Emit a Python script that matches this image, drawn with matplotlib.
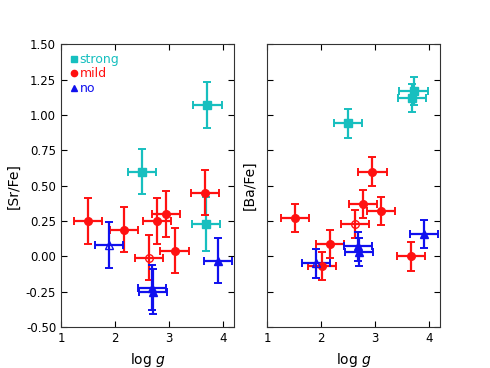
import matplotlib
matplotlib.use("Agg")
import matplotlib.pyplot as plt
from matplotlib.ticker import FormatStrFormatter

# log g, [Sr/Fe] (left panel)
sr_strong_x = [3.71, 2.50, 3.68]
sr_strong_y = [1.07, 0.60, 0.23]
sr_strong_ey = [0.16, 0.16, 0.19]

sr_mild_x = [1.50, 2.16, 2.77, 2.94, 3.10, 3.67]
sr_mild_y = [0.25, 0.19, 0.25, 0.30, 0.04, 0.45]
sr_mild_open_x = [2.62]
sr_mild_open_y = [-0.01]

sr_no_x = [2.68, 2.70, 3.90]
sr_no_y = [-0.22, -0.25, -0.03]
sr_no_open_x = [1.89]
sr_no_open_y = [0.08]

# log g, [Ba/Fe] (right panel)
ba_strong_x = [2.50, 3.71, 3.68]
ba_strong_y = [0.94, 1.17, 1.12]

ba_mild_x = [1.52, 2.77, 2.95, 3.11, 2.17, 2.01, 3.66]
ba_mild_y = [0.27, 0.37, 0.60, 0.32, 0.09, -0.07, 0.00]
ba_mild_open_x = [2.63]
ba_mild_open_y = [0.23]

ba_no_x = [2.69, 2.70, 3.90]
ba_no_y = [0.07, 0.03, 0.16]
ba_no_open_x = [1.90]
ba_no_open_y = [-0.05]

XERR = 0.26
SR_YERR = 0.16
BA_YERR = 0.10

C_STRONG = "#17bfbf"
C_MILD = "#ff1111"
C_NO = "#1010ee"

fig = plt.figure(figsize=(4.9, 3.68), dpi=100)
ax1 = fig.add_axes([0.1245, 0.111, 0.353, 0.769])
ax2 = fig.add_axes([0.545, 0.111, 0.353, 0.769])

kw = dict(linestyle="none", elinewidth=1.6, capsize=3, capthick=1.4, markersize=5.5)


def draw(ax, series, yerr):
    for x, y, ey, color, marker, filled in series:
        ax.errorbar(x, y, xerr=XERR, yerr=ey if ey is not None else yerr,
                    color=color, marker=marker,
                    mfc=color if filled else "none", mec=color, **kw)


draw(ax1, [
    (sr_strong_x, sr_strong_y, sr_strong_ey, C_STRONG, "s", True),
    (sr_mild_x, sr_mild_y, None, C_MILD, "o", True),
    (sr_mild_open_x, sr_mild_open_y, None, C_MILD, "o", False),
    (sr_no_x, sr_no_y, None, C_NO, "^", True),
    (sr_no_open_x, sr_no_open_y, None, C_NO, "^", False),
], SR_YERR)

draw(ax2, [
    (ba_strong_x, ba_strong_y, None, C_STRONG, "s", True),
    (ba_mild_x, ba_mild_y, None, C_MILD, "o", True),
    (ba_mild_open_x, ba_mild_open_y, None, C_MILD, "o", False),
    (ba_no_x, ba_no_y, None, C_NO, "^", True),
    (ba_no_open_x, ba_no_open_y, None, C_NO, "^", False),
], BA_YERR)

# legend with markers only
proxies = [
    ax1.plot([], [], "s", color=C_STRONG, ms=4.5)[0],
    ax1.plot([], [], "o", color=C_MILD, ms=4.5)[0],
    ax1.plot([], [], "^", color=C_NO, ms=4.5)[0],
]
leg = ax1.legend(proxies, ["strong", "mild", "no"], loc="upper left", frameon=False,
                 numpoints=1, handlelength=0.6, handletextpad=0.2, labelspacing=0.12,
                 fontsize=9, borderaxespad=0.3)
for txt, c in zip(leg.get_texts(), [C_STRONG, C_MILD, C_NO]):
    txt.set_color(c)

for ax in (ax1, ax2):
    ax.set_xlim(1, 4.2)
    ax.set_ylim(-0.5, 1.5)
    ax.set_xticks([1, 2, 3, 4])
    ax.set_yticks([-0.5, -0.25, 0, 0.25, 0.5, 0.75, 1.0, 1.25, 1.5])
    ax.tick_params(direction="in", top=True, right=True, labelsize=8.5, length=4)
    ax.set_xlabel("log $g$", fontsize=10)
    for s in ax.spines.values():
        s.set_color("#333333")

ax1.yaxis.set_major_formatter(FormatStrFormatter("%.2f"))
ax1.set_ylabel("[Sr/Fe]", fontsize=10)
ax2.set_yticklabels([])
ax2.set_ylabel("[Ba/Fe]", fontsize=10)

fig.savefig("out.png", dpi=100)
